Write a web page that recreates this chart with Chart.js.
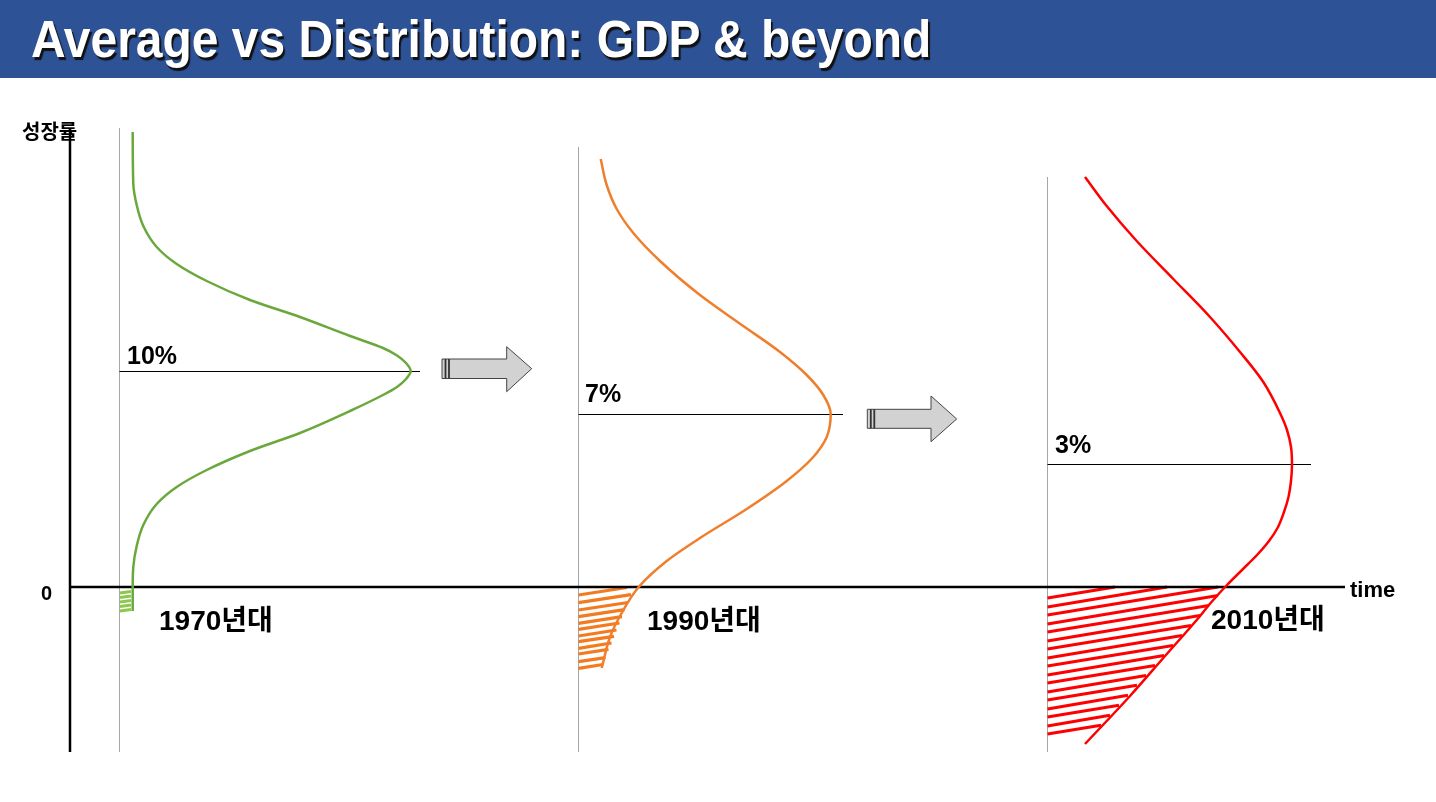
<!DOCTYPE html>
<html>
<head>
<meta charset="utf-8">
<script src="https://cdn.jsdelivr.net/npm/chart.js@4.4.0/dist/chart.umd.min.js"></script>
<style>
  body { margin: 0; background: #fff; width: 1436px; height: 802px; overflow: hidden; }
  #header {
    position: absolute; left: 0; top: 0; width: 1436px; height: 78px;
    background: #2d5296;
  }
  #header h1 {
    margin: 0; position: absolute; left: 31px; top: 11px; white-space: nowrap;
    font-family: "Liberation Sans", Arial, sans-serif; font-weight: bold;
    font-size: 51px; line-height: 58px; color: #fff;
    transform: scaleX(0.94); transform-origin: 0 0;
    text-shadow: 2px 3px 1px #111;
  }
  #wrap { position: absolute; left: 0; top: 78px; width: 1436px; height: 724px; }
</style>
</head>
<body>
<div id="header"><h1>Average vs Distribution: GDP &amp; beyond</h1></div>
<div id="wrap"><canvas id="chart" width="1436" height="724"></canvas></div>
<script>
// units: x = horizontal position, y = height above the zero (time) axis
const curve1970X = [132.7, 133.3, 136.7, 143.3, 156.7, 176.7, 206.7, 250, 300, 350, 383, 397, 406, 410.7, 406, 397, 383, 350, 300, 250, 206.7, 176.7, 156.7, 143.3, 136.7, 133.3, 132.7, 132.7];
const curve1970Y = [455, 403, 382, 361, 340, 323, 306, 287, 270, 251, 239, 231.5, 224, 216, 208, 200, 192, 176, 154, 136, 117, 100, 83, 62, 41, 20, -1, -24];

const curve1990X = [600.7, 606.7, 616.7, 633.3, 660, 700, 743.3, 780, 806.7, 823.3, 830.7, 826.7, 813.3, 786.7, 746.7, 700, 666.7, 638.7, 620, 610, 601.7];
const curve1990Y = [428, 402, 378, 354, 326, 292, 261, 235, 212, 192, 173, 150, 130, 106, 78, 49, 26, 0, -29, -50, -81];

const curve2010X = [1085, 1106.7, 1136.7, 1173.3, 1210, 1240, 1263.3, 1280, 1287, 1291, 1292, 1291, 1288.5, 1284, 1277.5, 1269, 1257, 1242, 1227, 1211.5, 1196.7, 1163.3, 1130, 1085];
const curve2010Y = [410, 381, 346, 308, 270, 235, 205, 174, 157, 140, 123, 106, 90, 75, 59, 46, 32, 17, 2, -15, -33, -71, -109, -157];

// average growth (mean line) per decade
const decades = ['1970년대', '1990년대', '2010년대'];
const averages = ['10%', '7%', '3%'];
const baseX = [119.5, 578.5, 1047.5];
const baseTop = [459, 440, 410];
const meanY = [215.5, 172.5, 122.5];
const meanEndX = [420, 843, 1311];

// negative-growth hatching
const hatch1970LeftY = [-6, -10.5, -15, -19.5, -24];
const hatch1970RightX = [131, 131, 131, 131, 131];
const hatch1970RightY = [-4.5, -9, -13.5, -18, -22.5];

const hatch1990LeftY = [-8, -15.7, -23, -29.7, -36.3, -42.3, -49, -54.7, -61.3, -67, -74.7, -81.3];
const hatch1990RightX = [627, 631, 628, 624.5, 622, 619.5, 616.5, 614, 611.5, 608.5, 605.5, 603];
const hatch1990RightY = [-0.5, -7.7, -15.5, -22.7, -29.7, -36, -43, -49.3, -56, -62.4, -70.6, -77.5];

const hatch2010LeftY = [-11, -20, -28, -37, -45, -54, -62, -71, -79, -88, -96, -105, -113, -122, -130, -139, -147];
const hatch2010RightX = [1115, 1167, 1218, 1218, 1209, 1200, 1191, 1182, 1173, 1164, 1155, 1146, 1137, 1128, 1119, 1110, 1101];
const hatch2010RightY = [0, 0, 0, -8.5, -18.5, -28.5, -38.5, -48.4, -58.4, -68.4, -78.4, -88.4, -98.3, -108.3, -118.3, -128.3, -138.2];

// arrows between decades: [bodyLeft, bodyTop, bodyBottom, headX, headTop, headBottom, tipX, tipY]
const arrow1 = [442, 228, 208.5, 506.7, 240.3, 195.3, 531.7, 218.3];
const arrow2 = [867.3, 177.7, 158.7, 931, 191, 145.3, 956.7, 168];

const axisX = 70, axisTop = 459, axisBottom = -165, axisRight = 1345;

function pts(xs, ys) { return xs.map((x, i) => ({ x: x, y: ys[i] })); }

function segs(leftX, leftY, rightX, rightY) {
    const out = [];
    leftY.forEach((ly, i) => {
        out.push({ x: leftX, y: ly }, { x: rightX[i], y: rightY[i] }, { x: rightX[i], y: null });
    });
    return out;
}

function arrowShape(a) {
    return [
        { x: a[0], y: a[1] }, { x: a[3], y: a[1] }, { x: a[3], y: a[4] },
        { x: a[6], y: a[7] }, { x: a[3], y: a[5] }, { x: a[3], y: a[2] },
        { x: a[0], y: a[2] }, { x: a[0], y: a[1] }
    ];
}

function arrowStripes(a) {
    return [
        { x: a[0] + 3.5, y: a[1] }, { x: a[0] + 3.5, y: a[2] }, { x: a[0] + 3.5, y: null },
        { x: a[0] + 7, y: a[1] }, { x: a[0] + 7, y: a[2] }
    ];
}

function line(data, color, width, extra) {
    return Object.assign({
        data: data, showLine: true, borderColor: color, borderWidth: width,
        pointRadius: 0, tension: 0, fill: false, spanGaps: false
    }, extra || {});
}

// curves are smoothed along the vertical (growth) axis
const smooth = { cubicInterpolationMode: 'monotone', tension: 0.4 };

const datasets = [
    line(pts(curve1970X, curve1970Y), '#6aa83c', 2.5, smooth),
    line(pts(curve1990X, curve1990Y), '#ef7f2c', 2.5, smooth),
    line(pts(curve2010X, curve2010Y), '#ff0000', 2.5, smooth),
    line([{ x: axisX, y: 0 }, { x: axisRight, y: 0 }], '#000', 2.5),
    line([{ x: axisX, y: axisTop }, { x: axisX, y: axisBottom }], '#000', 2.5),
    line(arrowStripes(arrow1), '#333', 1.8),
    line(arrowStripes(arrow2), '#333', 1.8),
    line(arrowShape(arrow1), '#444', 1, { fill: 'shape', backgroundColor: '#d2d2d2' }),
    line(arrowShape(arrow2), '#444', 1, { fill: 'shape', backgroundColor: '#d2d2d2' }),
    line(segs(baseX[0] + 0.5, hatch1970LeftY, hatch1970RightX, hatch1970RightY), '#8cc84b', 3),
    line(segs(baseX[1], hatch1990LeftY, hatch1990RightX, hatch1990RightY), '#f47a1f', 3.2),
    line(segs(baseX[2], hatch2010LeftY, hatch2010RightX, hatch2010RightY), '#ff0000', 3)
];

baseX.forEach((x, i) => {
    datasets.push(line([{ x: x, y: meanY[i] }, { x: meanEndX[i], y: meanY[i] }], '#000', 1));
    datasets.push(line([{ x: x, y: baseTop[i] }, { x: x, y: axisBottom }], '#a6a6a6', 1));
});

const FONT = '"Liberation Sans", "Noto Sans CJK KR", Arial, sans-serif';
const labels = [
    { t: '성장률', x: 22, y: 448, size: 20 },
    { t: '0', x: 41, y: -13, size: 20 },
    { t: 'time', x: 1350, y: -10, size: 22 },
    { t: averages[0], x: 127, y: 223, size: 25 },
    { t: averages[1], x: 585, y: 185, size: 25 },
    { t: averages[2], x: 1055, y: 134, size: 25 },
    { t: decades[0], x: 159, y: -43, size: 28 },
    { t: decades[1], x: 647, y: -43, size: 28 },
    { t: decades[2], x: 1211, y: -42, size: 28 }
];

const textPlugin = {
    id: 'texts',
    afterDatasetsDraw(chart) {
        const ctx = chart.ctx, sx = chart.scales.x, sy = chart.scales.y;
        ctx.save();
        ctx.fillStyle = '#000';
        ctx.textBaseline = 'alphabetic';
        labels.forEach(l => {
            ctx.font = 'bold ' + l.size + 'px ' + FONT;
            ctx.fillText(l.t, sx.getPixelForValue(l.x), sy.getPixelForValue(l.y));
        });
        ctx.restore();
    }
};

new Chart(document.getElementById('chart').getContext('2d'), {
    type: 'scatter',
    data: { datasets: datasets },
    options: {
        indexAxis: 'y',
        responsive: false,
        animation: false,
        events: [],
        devicePixelRatio: 1,
        layout: { padding: 0 },
        plugins: { legend: { display: false }, tooltip: { enabled: false } },
        scales: {
            x: { type: 'linear', min: 0, max: 1436, display: false },
            y: { type: 'linear', min: -215, max: 509, display: false }
        }
    },
    plugins: [textPlugin]
});
</script>
</body>
</html>
